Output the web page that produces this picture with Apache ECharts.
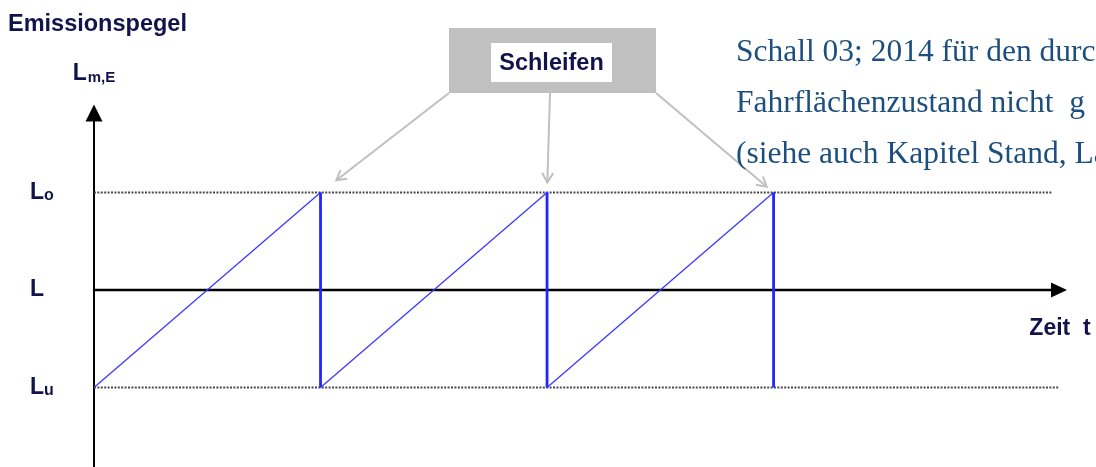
<!DOCTYPE html>
<html>
<head>
<meta charset="utf-8">
<script src="https://cdn.jsdelivr.net/npm/echarts@6/dist/echarts.min.js"></script>
<style>
  html, body { margin: 0; padding: 0; background: #fff; }
  #chart { width: 1096px; height: 467px; }
</style>
</head>
<body>
<div id="chart"></div>
<script>
// levels of the emission level (Lu < L < Lo)
const levelValues = [-1, 0, 1];
const levelMain = ["L", "L", "L"];
const levelSub = ["u", "", "o"];

// dotted reference lines: Lo and Lu, with their end on the time axis
const dottedLevels = [1, -1];
const dottedEnds = [4.23, 4.26];

// sawtooth: each tooth rises from Lu to Lo, then drops back at the "Schleifen" moment
const toothStart = [0, 1, 2];
const toothEnd = [1, 2, 3];
const lowLevel = -1;
const highLevel = 1;

const textColor = "#13134c";
const blue = "#2424ff";
const gray = "#c0c0c0";

const chart = echarts.init(document.getElementById("chart"));

const series = [];

dottedLevels.forEach((lvl, i) => {
  series.push({
    type: "line",
    data: [[0, lvl], [dottedEnds[i], lvl]],
    symbol: "none",
    silent: true,
    lineStyle: { color: "#4a4a4a", width: 2, type: [2, 1.4] },
    z: 1
  });
});

toothStart.forEach((t0, i) => {
  const t1 = toothEnd[i];
  // rising ramp (thin)
  series.push({
    type: "line",
    data: [[t0, lowLevel], [t1, highLevel]],
    symbol: "none",
    silent: true,
    lineStyle: { color: "#3a3aff", width: 1.3 },
    z: 3
  });
  // drop (thick)
  series.push({
    type: "line",
    data: [[t1, highLevel], [t1, lowLevel]],
    symbol: "none",
    silent: true,
    lineStyle: { color: blue, width: 2.8 },
    z: 3
  });
});

chart.setOption({
  backgroundColor: "#fff",
  animation: false,
  title: {
    text: "Emissionspegel",
    left: 8,
    top: 13,
    padding: 0,
    textStyle: {
      fontFamily: "Liberation Sans",
      fontWeight: "bold",
      fontSize: 23.5,
      color: textColor
    }
  },
  grid: { left: 94, right: 37, top: 113, bottom: 0 },
  xAxis: {
    type: "value",
    min: 0,
    max: 4.26,
    name: "Zeit  t",
    nameLocation: "end",
    nameGap: 1,
    nameTextStyle: {
      fontFamily: "Liberation Sans",
      fontWeight: "bold",
      fontSize: 23,
      color: textColor,
      align: "center",
      verticalAlign: "top",
      padding: [27, 0, 0, 0]
    },
    axisLine: {
      show: true,
      onZero: true,
      symbol: ["none", "triangle"],
      symbolSize: [15, 16],
      lineStyle: { color: "#000", width: 2.4 }
    },
    axisTick: { show: false },
    axisLabel: { show: false },
    splitLine: { show: false }
  },
  yAxis: {
    type: "value",
    min: -1.815,
    max: 1.815,
    name: "{main|L}{sub|m,E}",
    nameLocation: "end",
    nameGap: 28,
    nameTextStyle: {
      rich: {
        main: { fontFamily: "Liberation Sans", fontWeight: "bold", fontSize: 23, color: textColor, verticalAlign: "bottom" },
        sub: { fontFamily: "Liberation Sans", fontWeight: "bold", fontSize: 15, color: textColor, verticalAlign: "bottom", padding: [0, 0, 0, 1] }
      }
    },
    axisLine: {
      show: true,
      symbol: ["none", "triangle"],
      symbolSize: [17, 17],
      lineStyle: { color: "#000", width: 2 }
    },
    axisTick: { show: false },
    splitLine: { show: false },
    axisLabel: {
      show: true,
      customValues: levelValues,
      align: "left",
      margin: 64,
      formatter: (val) => {
        const i = levelValues.indexOf(val);
        if (i < 0) return "";
        return "{main|" + levelMain[i] + "}" + (levelSub[i] ? "{sub|" + levelSub[i] + "}" : "");
      },
      rich: {
        main: { fontFamily: "Liberation Sans", fontWeight: "bold", fontSize: 23, color: textColor, verticalAlign: "bottom" },
        sub: { fontFamily: "Liberation Sans", fontWeight: "bold", fontSize: 16, color: textColor, verticalAlign: "bottom" }
      }
    }
  },
  series: series
});

// annotation: "Schleifen" box with arrows pointing at each peak
const boxStarts = [[449, 93], [550, 93], [656, 93]];
const tipGaps = [20, 10, 9];
const graphics = [
  { type: "rect", shape: { x: 449, y: 28, width: 207, height: 65 }, style: { fill: gray } },
  { type: "rect", shape: { x: 491, y: 43, width: 121, height: 39 }, style: { fill: "#fff" } },
  {
    type: "text",
    x: 551.5, y: 64,
    style: {
      text: "Schleifen",
      fill: textColor,
      font: "bold 23.5px 'Liberation Sans'",
      align: "center",
      verticalAlign: "middle"
    }
  }
];

toothEnd.forEach((t, i) => {
  const peak = chart.convertToPixel({ gridIndex: 0 }, [t, highLevel]);
  const s = boxStarts[i];
  const dx = peak[0] - s[0];
  const dy = peak[1] - s[1];
  const len = Math.sqrt(dx * dx + dy * dy);
  const ux = dx / len;
  const uy = dy / len;
  const tip = [peak[0] - ux * tipGaps[i], peak[1] - uy * tipGaps[i]];
  const head = 11;
  const ang = Math.PI / 6;
  const back = (a) => [
    tip[0] - head * (ux * Math.cos(a) - uy * Math.sin(a)),
    tip[1] - head * (uy * Math.cos(a) + ux * Math.sin(a))
  ];
  graphics.push({
    type: "polyline",
    shape: { points: [s, tip] },
    style: { stroke: gray, lineWidth: 2, fill: null }
  });
  graphics.push({
    type: "polyline",
    shape: { points: [back(ang), tip, back(-ang)] },
    style: { stroke: gray, lineWidth: 2, fill: null }
  });
});

// body text to the right of the figure (cut at the page edge)
const sideLines = [
  "Schall 03; 2014 für den durc",
  "Fahrflächenzustand nicht  g",
  "(siehe auch Kapitel Stand, Lä"
];
sideLines.forEach((line, i) => {
  graphics.push({
    type: "text",
    x: 736,
    y: 37 + i * 51,
    style: {
      text: line,
      fill: "#1d4f7e",
      font: "31.5px 'Liberation Serif'",
      align: "left",
      verticalAlign: "alphabetic"
    }
  });
});

chart.setOption({ graphic: graphics });

window.addEventListener("resize", () => chart.resize());
</script>
</body>
</html>
